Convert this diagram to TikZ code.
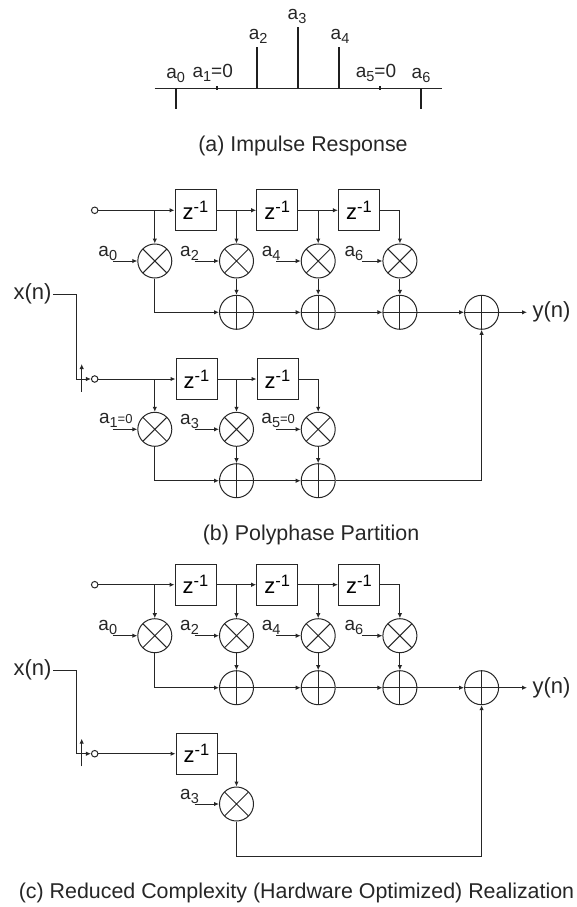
\documentclass[tikz,border=0pt]{standalone}
\usepackage{fontspec}
\setmainfont{Liberation Sans}
\usepackage{tikz}
\usetikzlibrary{arrows.meta}
\newcommand{\zinv}{z\raisebox{7pt}{\fontsize{16.5}{17}\selectfont -1}}
\newcommand{\coefsub}[1]{a\raisebox{-4pt}{\fontsize{14.5}{15}\selectfont #1}}
\newcommand{\coefzero}[1]{a\raisebox{-4pt}{\fontsize{14.5}{15}\selectfont #1}\fontsize{13}{15}\selectfont =0}
\colorlet{wire}{black!85}
\tikzstyle{block} = [rectangle, draw=wire, inner sep=0pt, minimum width=41pt, minimum height=41pt, font=\fontsize{22}{24}\selectfont]
\tikzstyle{mult} = [circle, draw=wire, inner sep=0pt, minimum size=34pt,
    path picture={\draw [wire] (path picture bounding box.north west) -- (path picture bounding box.south east)
        (path picture bounding box.north east) -- (path picture bounding box.south west);}]
\tikzstyle{adder} = [circle, draw=wire, inner sep=0pt, minimum size=34pt,
    path picture={\draw [wire] (path picture bounding box.north) -- (path picture bounding box.south)
        (path picture bounding box.east) -- (path picture bounding box.west);}]
\tikzstyle{port} = [circle, draw=wire, inner sep=0pt, minimum size=6.5pt]
\tikzstyle{coef} = [inner sep=0pt, node distance=8pt, font=\fontsize{19}{22}\selectfont, text=wire]
\tikzstyle{caption} = [inner sep=0pt, font=\fontsize{21.4}{24}\selectfont, text=wire]
\tikzstyle{signal} = [inner sep=1pt, font=\fontsize{22}{24}\selectfont, text=wire]
\tikzstyle{line} = [draw=wire, -{Latex[length=5pt,width=4.5pt]}]
\tikzstyle{wireline} = [draw=wire]
\tikzstyle{stem} = [draw=black!88, line width=1.6pt]

\begin{document}
\begin{tikzpicture}[x=1pt,y=1pt,node distance=81.7pt,line width=1pt]
    \useasboundingbox (0,0) rectangle (577,-907);
    % (a) impulse response
    \coordinate (t0) at (175.7,-88);
    \coordinate [right of=t0, node distance=41pt] (t1);
    \coordinate [right of=t1, node distance=40.5pt] (t2);
    \coordinate [right of=t2, node distance=40.8pt] (t3);
    \coordinate [right of=t3, node distance=41pt] (t4);
    \coordinate [right of=t4, node distance=41pt] (t5);
    \coordinate [right of=t5, node distance=41pt] (t6);
    \coordinate [left of=t0, node distance=21pt] (axl);
    \coordinate [right of=t6, node distance=21pt] (axr);
    \path [wireline] (axl) -- (axr);
    \path [stem] (t0) -- ++(0,-20.5);
    \path [stem] (t1) ++(0,2) -- ++(0,-4);
    \path [stem] (t2) -- ++(0,41);
    \path [stem] (t3) -- ++(0,61);
    \path [stem] (t4) -- ++(0,41);
    \path [stem] (t5) ++(0,2) -- ++(0,-4);
    \path [stem] (t6) -- ++(0,-20.5);
    \node [coef, above of=t0, node distance=13pt] (h0) {\coefsub{0}};
    \node [coef, above of=t1, node distance=15pt, xshift=-4pt] (h1) {\coefsub{1}=0};
    \node [coef, above of=t2, node distance=52pt, xshift=1pt] (h2) {\coefsub{2}};
    \node [coef, above of=t3, node distance=72pt, xshift=-1pt] (h3) {\coefsub{3}};
    \node [coef, above of=t4, node distance=52pt, xshift=1pt] (h4) {\coefsub{4}};
    \node [coef, above of=t5, node distance=15pt, xshift=-4pt] (h5) {\coefsub{5}=0};
    \node [coef, above of=t6, node distance=13pt] (h6) {\coefsub{6}};
    \node [caption] (capa) at (303,-145.5) {(a) Impulse Response};

    % (b) upper branch: place nodes
    \node [port] (s1) at (94.7,-210.3) {};
    \node [block] (b11) at (195.5,-210.3) {\zinv};
    \node [block, right of=b11] (b12) {\zinv};
    \node [block, right of=b12] (b13) {\zinv};
    \node [mult] (m10) at (154.8,-261) {};
    \node [mult, right of=m10] (m11) {};
    \node [mult, right of=m11] (m12) {};
    \node [mult, right of=m12] (m13) {};
    \node [adder, below of=m11, node distance=51.3pt] (p11) {};
    \node [adder, below of=m12, node distance=51.3pt] (p12) {};
    \node [adder, below of=m13, node distance=51.3pt] (p13) {};
    \node [adder, right of=p13] (p14) {};
    \coordinate [left of=m10, node distance=42pt] (i10);
    \coordinate [left of=m11, node distance=42pt] (i11);
    \coordinate [left of=m12, node distance=42pt] (i12);
    \coordinate [left of=m13, node distance=38pt] (i13);
    \node [coef, above of=i10, xshift=-5pt] (l10) {\coefsub{0}};
    \node [coef, above of=i11, xshift=-5pt] (l11) {\coefsub{2}};
    \node [coef, above of=i12, xshift=-5pt] (l12) {\coefsub{4}};
    \node [coef, above of=i13, xshift=-8pt] (l13) {\coefsub{6}};
    \node [signal, anchor=west, inner sep=5pt] (yb) at (527,-312.3) {y(n)};
    \node [signal, anchor=east] (xb) at (53,-294.3) {x(n)};
    % (b) lower branch: place nodes
    \node [port] (s2) at (94.7,-379) {};
    \node [block] (b21) at (196.5,-379) {\zinv};
    \node [block, right of=b21, node distance=81pt] (b22) {\zinv};
    \node [mult] (m20) at (154.8,-429.3) {};
    \node [mult, right of=m20] (m21) {};
    \node [mult, right of=m21] (m22) {};
    \node [adder, below of=m21, node distance=51.4pt] (p21) {};
    \node [adder, below of=m22, node distance=51.4pt] (p22) {};
    \coordinate [left of=m20, node distance=42pt] (i20);
    \coordinate [left of=m21, node distance=42pt] (i21);
    \coordinate [left of=m22, node distance=42pt] (i22);
    \node [coef, above of=i20, node distance=9pt, xshift=3pt] (l20) {\coefzero{1}};
    \node [coef, above of=i21, xshift=-5pt] (l21) {\coefsub{3}};
    \node [coef, above of=i22, node distance=9pt, xshift=2pt] (l22) {\coefzero{5}};
    \coordinate [left of=s2, node distance=18.4pt] (c2);
    \coordinate [left of=s2, node distance=13pt, yshift=-12.7pt] (sw2a);
    \coordinate [left of=s2, node distance=13pt, yshift=15pt] (sw2b);
    \node [caption] (capb) at (311,-535) {(b) Polyphase Partition};
    % (b) draw edges
    \path [line] (s1) -- (b11);
    \path [line] (b11) -- (b12);
    \path [line] (b12) -- (b13);
    \path [line] (m10 |- s1) -- (m10);
    \path [line] (m11 |- s1) -- (m11);
    \path [line] (m12 |- s1) -- (m12);
    \path [line] (b13) -| (m13);
    \path [line] (i10) -- (m10);
    \path [line] (i11) -- (m11);
    \path [line] (i12) -- (m12);
    \path [line] (i13) -- (m13);
    \path [line] (m11) -- (p11);
    \path [line] (m12) -- (p12);
    \path [line] (m13) -- (p13);
    \path [line] (m10) |- (p11);
    \path [line] (p11) -- (p12);
    \path [line] (p12) -- (p13);
    \path [line] (p13) -- (p14);
    \path [line] (p14) -- (yb);
    \path [wireline] (xb) -| (c2);
    \path [line] (c2) -- (s2);
    \path [line] (sw2a) -- (sw2b);
    \path [line] (s2) -- (b21);
    \path [line] (b21) -- (b22);
    \path [line] (m20 |- s2) -- (m20);
    \path [line] (m21 |- s2) -- (m21);
    \path [line] (b22) -| (m22);
    \path [line] (i20) -- (m20);
    \path [line] (i21) -- (m21);
    \path [line] (i22) -- (m22);
    \path [line] (m21) -- (p21);
    \path [line] (m22) -- (p22);
    \path [line] (m20) |- (p21);
    \path [line] (p21) -- (p22);
    \path [line] (p22) -| (p14);

    % (c) upper branch: place nodes
    \node [port] (s3) at (94.7,-584.7) {};
    \node [block] (b31) at (195.5,-584.7) {\zinv};
    \node [block, right of=b31] (b32) {\zinv};
    \node [block, right of=b32] (b33) {\zinv};
    \node [mult] (m30) at (154.8,-635.7) {};
    \node [mult, right of=m30] (m31) {};
    \node [mult, right of=m31] (m32) {};
    \node [mult, right of=m32] (m33) {};
    \node [adder, below of=m31, node distance=52pt] (p31) {};
    \node [adder, below of=m32, node distance=52pt] (p32) {};
    \node [adder, below of=m33, node distance=52pt] (p33) {};
    \node [adder, right of=p33] (p34) {};
    \coordinate [left of=m30, node distance=42pt] (i30);
    \coordinate [left of=m31, node distance=42pt] (i31);
    \coordinate [left of=m32, node distance=42pt] (i32);
    \coordinate [left of=m33, node distance=38pt] (i33);
    \node [coef, above of=i30, xshift=-5pt] (l30) {\coefsub{0}};
    \node [coef, above of=i31, xshift=-5pt] (l31) {\coefsub{2}};
    \node [coef, above of=i32, xshift=-5pt] (l32) {\coefsub{4}};
    \node [coef, above of=i33, xshift=-8pt] (l33) {\coefsub{6}};
    \node [signal, anchor=west, inner sep=5pt] (yc) at (527,-687.7) {y(n)};
    \node [signal, anchor=east] (xc) at (53,-670) {x(n)};
    % (c) lower branch: place nodes
    \node [port] (s4) at (94.7,-753.7) {};
    \node [block] (b41) at (196.5,-753.7) {\zinv};
    \node [mult] (m41) at (236.5,-804) {};
    \coordinate [left of=m41, node distance=42pt] (i41);
    \node [coef, above of=i41, xshift=-5pt] (l41) {\coefsub{3}};
    \coordinate [below of=m41, node distance=52.5pt] (c4);
    \coordinate [left of=s4, node distance=18.4pt] (c3);
    \coordinate [left of=s4, node distance=13pt, yshift=-12.7pt] (sw4a);
    \coordinate [left of=s4, node distance=13pt, yshift=15pt] (sw4b);
    \node [caption] (capc) at (296.5,-893) {(c) Reduced Complexity (Hardware Optimized) Realization};
    % (c) draw edges
    \path [line] (s3) -- (b31);
    \path [line] (b31) -- (b32);
    \path [line] (b32) -- (b33);
    \path [line] (m30 |- s3) -- (m30);
    \path [line] (m31 |- s3) -- (m31);
    \path [line] (m32 |- s3) -- (m32);
    \path [line] (b33) -| (m33);
    \path [line] (i30) -- (m30);
    \path [line] (i31) -- (m31);
    \path [line] (i32) -- (m32);
    \path [line] (i33) -- (m33);
    \path [line] (m31) -- (p31);
    \path [line] (m32) -- (p32);
    \path [line] (m33) -- (p33);
    \path [line] (m30) |- (p31);
    \path [line] (p31) -- (p32);
    \path [line] (p32) -- (p33);
    \path [line] (p33) -- (p34);
    \path [line] (p34) -- (yc);
    \path [wireline] (xc) -| (c3);
    \path [line] (c3) -- (s4);
    \path [line] (sw4a) -- (sw4b);
    \path [line] (s4) -- (b41);
    \path [line] (b41) -| (m41);
    \path [line] (i41) -- (m41);
    \path [wireline] (m41) -- (c4);
    \path [line] (c4) -| (p34);
\end{tikzpicture}
\end{document}
